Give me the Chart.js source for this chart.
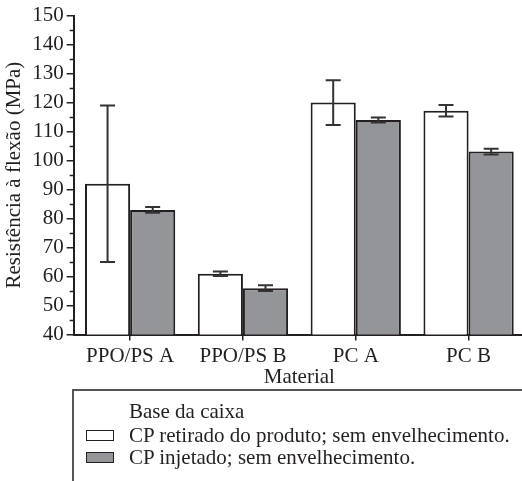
<!DOCTYPE html>
<html>
<head>
<meta charset="utf-8">
<script src="https://cdn.jsdelivr.net/npm/chart.js@4.4.0/dist/chart.umd.min.js"></script>
<style>
  html, body { margin: 0; padding: 0; background: #fff; overflow: hidden; }
  #wrap { position: relative; width: 522px; height: 481px; overflow: hidden; }
  #chartBox { position: absolute; left: 0; top: 0; width: 525px; height: 390px; }
  #legend { position: absolute; left: 72px; top: 389px; width: 470px; height: 110px;
            border: 2px solid #555; box-sizing: border-box;
            font-family: "Liberation Serif", "Times New Roman", serif; font-size: 21px; color: #231f20; }
  #legend .title { position: absolute; left: 55px; top: 9px; line-height: 22px; }
  #legend .item { position: absolute; left: 55px; line-height: 22px; white-space: nowrap; }
  #legend .sw { position: absolute; left: -43px; top: 6px; width: 26px; height: 9px; border: 1.5px solid #231f20; }
</style>
</head>
<body>
<div id="wrap">
  <div id="chartBox"><canvas id="c"></canvas></div>
  <div id="legend"></div>
</div>
<script>
const categories = ['PPO/PS A', 'PPO/PS B', 'PC A', 'PC B'];
const legendTitle = 'Base da caixa';
const seriesLabels = ['CP retirado do produto; sem envelhecimento.', 'CP injetado; sem envelhecimento.'];
const seriesColors = ['#ffffff', '#939598'];
const productValues = [92, 61, 120, 117.2];
const productErrors = [27, 0.8, 7.7, 2];
const injectedValues = [83, 56, 114, 103.1];
const injectedErrors = [1, 1, 0.9, 1];
const yTicks = [40, 50, 60, 70, 80, 90, 100, 110, 120, 130, 140, 150];
const yMinorTicks = [45, 55, 65, 75, 85, 95, 105, 115, 125, 135, 145];

const ink = '#231f20';
const FONT = '"Liberation Serif", "Times New Roman", serif';
const FS = 21;

const errorBarPlugin = {
  id: 'errorBars',
  afterDatasetsDraw(chart) {
    const ctx = chart.ctx;
    const yScale = chart.scales.y;
    ctx.save();
    ctx.strokeStyle = '#333';
    ctx.lineWidth = 2;
    chart.data.datasets.forEach((ds, di) => {
      const meta = chart.getDatasetMeta(di);
      meta.data.forEach((bar, i) => {
        const v = ds.data[i], e = ds.errors[i];
        const x = bar.x;
        const yTop = yScale.getPixelForValue(v + e);
        const yBot = yScale.getPixelForValue(v - e);
        const cap = 7.5;
        ctx.beginPath();
        ctx.moveTo(x, yTop); ctx.lineTo(x, yBot);
        ctx.moveTo(x - cap, yTop); ctx.lineTo(x + cap, yTop);
        ctx.moveTo(x - cap, yBot); ctx.lineTo(x + cap, yBot);
        ctx.stroke();
      });
    });
    ctx.restore();
  }
};

const minorTickPlugin = {
  id: 'minorTicks',
  afterDraw(chart) {
    const ctx = chart.ctx;
    const yScale = chart.scales.y;
    const x0 = chart.chartArea.left;
    ctx.save();
    ctx.strokeStyle = ink;
    ctx.lineWidth = 1.5;
    yMinorTicks.forEach(v => {
      const y = Math.round(yScale.getPixelForValue(v)) + 0.5;
      ctx.beginPath();
      ctx.moveTo(x0, y); ctx.lineTo(x0 - 4, y);
      ctx.stroke();
    });
    ctx.restore();
  }
};

new Chart(document.getElementById('c'), {
  type: 'bar',
  data: {
    labels: categories,
    datasets: [
      { label: seriesLabels[0], data: productValues, errors: productErrors,
        backgroundColor: seriesColors[0], borderColor: ink, borderWidth: 2,
        categoryPercentage: 0.8, barPercentage: 1.0 },
      { label: seriesLabels[1], data: injectedValues, errors: injectedErrors,
        backgroundColor: seriesColors[1], borderColor: ink, borderWidth: 2,
        categoryPercentage: 0.8, barPercentage: 1.0 }
    ]
  },
  options: {
    responsive: true,
    maintainAspectRatio: false,
    animation: false,
    layout: { padding: { left: 2, right: 0, top: 7, bottom: 0 } },
    plugins: { legend: { display: false }, tooltip: { enabled: false } },
    scales: {
      x: {
        grid: { display: true, drawOnChartArea: false, drawTicks: true, tickLength: 6, offset: false, color: ink, lineWidth: 1.5 },
        border: { display: true, color: ink, width: 2 },
        ticks: { color: ink, font: { family: FONT, size: FS }, padding: 3, maxRotation: 0 },
        title: { display: true, text: 'Material', color: ink, font: { family: FONT, size: FS }, padding: { top: -7, bottom: 0 } }
      },
      y: {
        min: 40, max: 150,
        afterBuildTicks(scale) { scale.ticks = yTicks.map(v => ({ value: v })); },
        grid: { display: true, drawOnChartArea: false, drawTicks: true, tickLength: 7, color: ink, lineWidth: 1.5 },
        border: { display: true, color: ink, width: 2 },
        ticks: { color: ink, font: { family: FONT, size: FS }, padding: 3 },
        title: { display: true, text: 'Resistência à flexão (MPa)', color: ink, font: { family: FONT, size: FS }, padding: { top: 0, bottom: 2 } }
      }
    }
  },
  plugins: [errorBarPlugin, minorTickPlugin]
});

// HTML legend built from the series arrays
const legend = document.getElementById('legend');
const t = document.createElement('div');
t.className = 'title'; t.textContent = legendTitle; legend.appendChild(t);
seriesLabels.forEach((lab, i) => {
  const it = document.createElement('div');
  it.className = 'item';
  it.style.top = (33 + i * 22) + 'px';
  const sw = document.createElement('span');
  sw.className = 'sw'; sw.style.background = seriesColors[i];
  it.appendChild(sw);
  it.appendChild(document.createTextNode(lab));
  legend.appendChild(it);
});
</script>
</body>
</html>
